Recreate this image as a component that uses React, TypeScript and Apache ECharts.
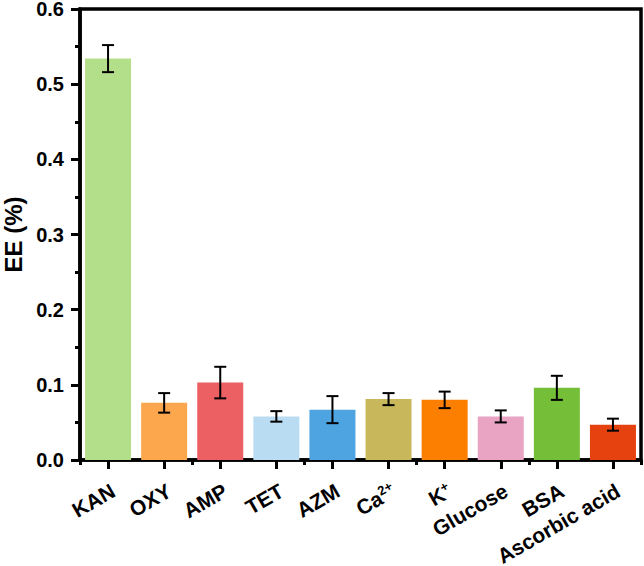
import React, { useEffect, useRef } from "react";
import * as echarts from "echarts";

const categories = ["KAN", "OXY", "AMP", "TET", "AZM", "Ca2+", "K+", "Glucose", "BSA", "Ascorbic acid"];
const means = [0.534, 0.076, 0.103, 0.058, 0.067, 0.081, 0.080, 0.058, 0.096, 0.047];
const errors = [0.018, 0.013, 0.021, 0.007, 0.018, 0.008, 0.011, 0.008, 0.016, 0.008];
const colors = ["#b3df8a", "#fca64e", "#ec5f63", "#badcf2", "#4ea4e0", "#c9b85b", "#fd7f02", "#e9a3c3", "#74bf37", "#e6420f"];
const yTicks = [0, 0.1, 0.2, 0.3, 0.4, 0.5, 0.6];

const FONT = "'Liberation Sans', Arial, sans-serif";

export default function App() {
  const ref = useRef<HTMLDivElement>(null);
  useEffect(() => {
    if (!ref.current) return;
    const chart = echarts.init(ref.current, null, { renderer: "svg" });
    const labelFmt = (v: string) => {
      if (v === "Ca2+") return "{b|Ca}{s|2+}";
      if (v === "K+") return "{b|K}{s|+}";
      return "{b|" + v + "}";
    };
    chart.setOption({
      animation: false,
      backgroundColor: "#fff",
      textStyle: { fontFamily: FONT },
      grid: {
        left: 80,
        top: 9,
        right: 3,
        bottom: 106,
        containLabel: false,
        outerBoundsMode: "none",
        show: true,
        borderColor: "#000",
        borderWidth: 3.5,
        backgroundColor: "transparent",
      },
      xAxis: [
        {
          type: "category",
          data: categories,
          position: "bottom",
          axisLine: { show: true, lineStyle: { color: "#000", width: 3.5 } },
          axisTick: { show: true, alignWithLabel: true, inside: false, length: 9, lineStyle: { color: "#000", width: 3 } },
          axisLabel: {
            interval: 0,
            rotate: 30,
            margin: 32,
            padding: [0, -6, 0, 0],
            color: "#000",
            formatter: labelFmt,
            rich: {
              b: { fontSize: 21, fontWeight: "bold", fontFamily: FONT, color: "#000" },
              s: { fontSize: 13, fontWeight: "bold", fontFamily: FONT, color: "#000", verticalAlign: "top", padding: [0, 0, 10, 0] },
            },
          },
          splitLine: { show: false },
        },
        {
          type: "category",
          data: categories,
          position: "bottom",
          axisLine: { show: false },
          axisTick: { show: true, alignWithLabel: false, length: 5, lineStyle: { color: "#000", width: 3 } },
          axisLabel: { show: false },
          splitLine: { show: false },
        },
      ],
      yAxis: {
        type: "value",
        min: 0,
        max: 0.6,
        interval: 0.1,
        name: "EE (%)",
        nameLocation: "middle",
        nameGap: 55,
        nameRotate: 90,
        nameTextStyle: { fontSize: 24, fontWeight: "bold", color: "#000", fontFamily: FONT },
        axisLine: { show: true, lineStyle: { color: "#000", width: 3.5 } },
        axisTick: { show: true, length: 9, lineStyle: { color: "#000", width: 3 } },
        minorTick: { show: true, splitNumber: 2, length: 5, lineStyle: { color: "#000", width: 3 } },
        axisLabel: {
          fontSize: 20,
          fontWeight: "bold",
          color: "#000",
          margin: 16,
          fontFamily: FONT,
          formatter: (v: number) => {
            const t = yTicks.find((y) => Math.abs(y - v) < 1e-9);
            return (t !== undefined ? t : v).toFixed(1);
          },
        },
        splitLine: { show: false },
      },
      series: [
        {
          type: "bar",
          xAxisIndex: 0,
          barWidth: "82%",
          data: means.map((m, i) => ({ value: m, itemStyle: { color: colors[i] } })),
        },
        {
          type: "custom",
          xAxisIndex: 0,
          z: 10,
          data: means.map((m, i) => [i, m - errors[i], m + errors[i]]),
          renderItem: (params: any, api: any) => {
            const i = api.value(0);
            const lo = api.coord([i, api.value(1)]);
            const hi = api.coord([i, api.value(2)]);
            const w = 6;
            const style = { stroke: "#000", lineWidth: 2 };
            return {
              type: "group",
              children: [
                { type: "line", shape: { x1: hi[0], y1: hi[1], x2: lo[0], y2: lo[1] }, style },
                { type: "line", shape: { x1: hi[0] - w, y1: hi[1], x2: hi[0] + w, y2: hi[1] }, style },
                { type: "line", shape: { x1: lo[0] - w, y1: lo[1], x2: lo[0] + w, y2: lo[1] }, style },
              ],
            };
          },
        },
      ],
    });
    return () => chart.dispose();
  }, []);
  return <div ref={ref} style={{ position: "fixed", left: 0, top: 0, width: 644, height: 566 }} />;
}
